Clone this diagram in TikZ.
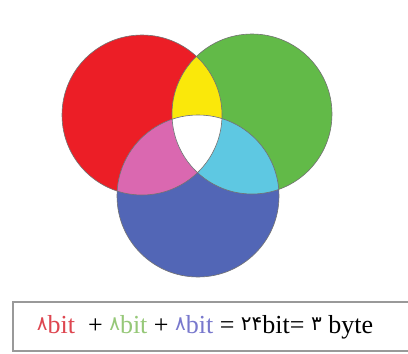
\documentclass[tikz,border=0pt]{standalone}
\usepackage{fontspec}
\setmainfont{Liberation Serif}
\newfontfamily\fadig{DejaVu Sans}
\usepackage{xcolor}
\usetikzlibrary{positioning}

\definecolor{cred}{RGB}{236,30,38}
\definecolor{cgreen}{RGB}{98,186,72}
\definecolor{cblue}{RGB}{82,102,182}
\definecolor{cyellow}{RGB}{250,232,10}
\definecolor{cmagenta}{RGB}{218,104,176}
\definecolor{ccyan}{RGB}{94,200,226}
\definecolor{tred}{RGB}{222,70,80}
\definecolor{tgreen}{RGB}{150,200,120}
\definecolor{tblue}{RGB}{120,120,205}

\tikzset{
  rim/.style={draw=black!55, line width=0.6pt},
  sumbox/.style={draw=black!40, line width=1.2pt},
}
\newcommand{\redc}{(142,115) circle[radius=80pt]}
\newcommand{\greenc}{(252,114) circle[radius=80pt]}
\newcommand{\bluec}{(198,196) circle[radius=81pt]}
\newcommand{\dg}[1]{\raisebox{3pt}{\fadig\fontsize{20}{20}\selectfont #1}}

\begin{document}
\begin{tikzpicture}[x=1pt,y=-1pt]
\useasboundingbox (0,0) rectangle (408,354);
\fill[white] (0,0) rectangle (408,354);
% the three discs
\fill[cred] \redc;
\fill[cgreen] \greenc;
\fill[cblue] \bluec;
% overlaps
\begin{scope}
  \clip \redc;
  \fill[cyellow] \greenc;
  \fill[cmagenta] \bluec;
\end{scope}
\begin{scope}
  \clip \greenc;
  \fill[ccyan] \bluec;
  \clip \bluec;
  \fill[white] \redc;
\end{scope}
\draw[rim] \redc;
\draw[rim] \greenc;
\draw[rim] \bluec;
% sum line
\coordinate (boxtl) at (415,302);
\coordinate (boxbl) at (415,351);
\draw[sumbox] (boxtl) -- (13,302) -- (13,351) -- (boxbl);
\node[font=\fontsize{26}{26}\selectfont, anchor=center] (sum) at (205,327)
  {\textcolor{tred}{\dg{٨}bit} \ + \textcolor{tgreen}{\dg{٨}bit} + \textcolor{tblue}{\dg{٨}bit} = \dg{۲۴}bit= \dg{۳} byte};
\end{tikzpicture}
\end{document}
